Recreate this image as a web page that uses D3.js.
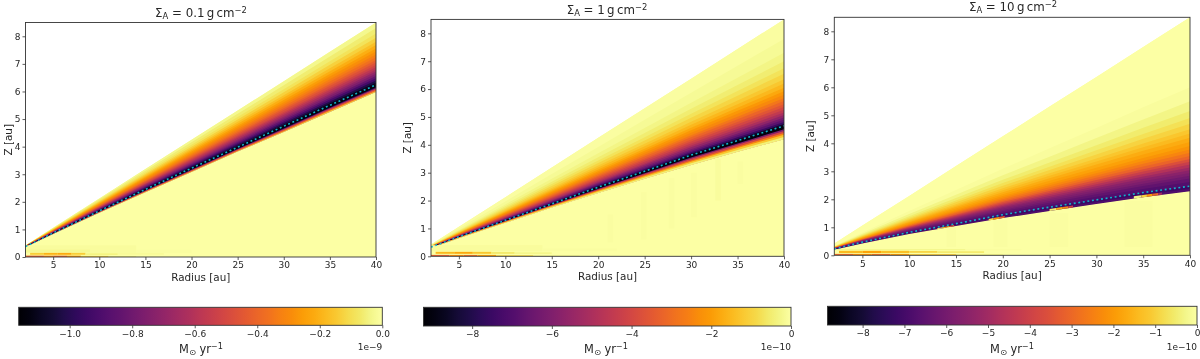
<!DOCTYPE html>
<html><head><meta charset="utf-8">
<script src="https://cdnjs.cloudflare.com/ajax/libs/d3/7.8.5/d3.min.js"></script>
<style>
html,body{margin:0;padding:0;background:#fff;overflow:hidden}
svg{display:block;filter:blur(0.4px)}
text{font-family:"DejaVu Sans",sans-serif;fill:#262626}
</style></head><body><svg id="c" width="1200" height="359"></svg>
<script>
// ---------- data ----------
const radii = [2,5,10,15,20,25,30,35,40];
const topZ  = [0.42,1.06,2.12,3.19,4.25,5.31,6.37,7.44,8.5];

const titles = ["0.1","1","10"];
const xTicks = [5,10,15,20,25,30,35,40];
const yTicks = [0,1,2,3,4,5,6,7,8];

// height of the dotted surface and of the lower edge of the active layer
const surface1 = [0.38,0.87,1.67,2.45,3.22,3.98,4.74,5.5,6.24];
const lower1   = [0.36,0.83,1.6,2.35,3.08,3.82,4.53,5.26,5.98];
const surface2 = [0.33,0.7,1.29,1.88,2.48,3.05,3.63,4.15,4.68];
const lower2   = [0.3,0.65,1.2,1.75,2.27,2.78,3.28,3.75,4.2];
const surface3 = [0.23,0.47,0.82,1.13,1.45,1.72,1.98,2.24,2.47];
const lower3   = [0.2,0.42,0.76,1.05,1.33,1.58,1.83,2.07,2.29];

// band edges (Z at R = 40) above the surface, and the band values
const edges1 = [8.5,8.3,8.1,7.95,7.8,7.68,7.56,7.45,7.34,7.24,7.14,7.05,6.96,6.88,6.8,6.72,6.64,6.56,6.48,6.4,6.32,6.24];
const values1= [-0.03,-0.06,-0.09,-0.13,-0.17,-0.21,-0.25,-0.29,-0.33,-0.37,-0.42,-0.47,-0.52,-0.58,-0.64,-0.7,-0.76,-0.84,-0.92,-1.02,-1.1];
const edges2 = [8.5,7.8,7.3,7,6.75,6.55,6.35,6.2,6.05,5.92,5.8,5.68,5.57,5.46,5.36,5.26,5.16,5.07,4.98,4.9,4.82,4.75,4.68];
const values2= [-0.05,-0.15,-0.3,-0.5,-0.7,-0.95,-1.2,-1.5,-1.8,-2.1,-2.4,-2.8,-3.2,-3.6,-4,-4.5,-5,-5.6,-6.2,-6.8,-7.6,-8.6];
const edges3 = [8.5,6,5.5,5.15,4.9,4.7,4.5,4.35,4.2,4.05,3.9,3.78,3.66,3.55,3.44,3.34,3.24,3.14,3.04,2.94,2.84,2.74,2.62,2.47];
const values3= [-0.02,-0.1,-0.3,-0.5,-0.7,-0.95,-1.2,-1.4,-1.65,-1.85,-2.1,-2.35,-2.7,-3.1,-3.6,-4.1,-4.6,-5.1,-5.5,-5.8,-6.1,-6.4,-6.7];

// band edges below the surface (Z at R = 40) and their values
const lowEdges1 = [6.24,6.15,6.12,6.07,6.02,5.98];
const lowValues1= [-1.14,-0.95,-0.6,-0.4,-0.15];
const lowEdges2 = [4.68,4.56,4.5,4.42,4.36,4.28,4.2];
const lowValues2= [-9,-6,-4,-2.5,-1.2,-0.4];
const lowEdges3 = [2.47,2.38,2.29];
const lowValues3= [-7.2,-6.8];

// colour scale limits and colour bar ticks
const vmin1=-1.163, vmin2=-9.22, vmin3=-8.84;
const cTicks1=[-1.0,-0.8,-0.6,-0.4,-0.2,0.0];
const cTicks2=[-8,-6,-4,-2,0];
const cTicks3=[-8,-7,-6,-5,-4,-3,-2,-1,0];
const offsets=["1e\u22129","1e\u221210","1e\u221210"];

// midplane streaks: R start, R end, Z start, Z end, value
const streaks1=[[2,14,0.14,0.42,-0.012],[14,20,0.15,0.26,-0.006],[2,9,0.17,0.27,-0.025],
 [2,4,0,0.05,-0.42],[4,5,0,0.05,-0.32],[5,6.5,0,0.05,-0.4],[6.5,8,0,0.05,-0.26],[8,11,0,0.04,-0.12],[11,14,0,0.03,-0.05],
 [2.5,4,0.08,0.15,-0.14],[4,5.5,0.08,0.15,-0.2],[5.5,7,0.08,0.15,-0.22],[7,8.5,0.08,0.15,-0.14],[8.5,12,0.08,0.13,-0.05],[12,17,0.09,0.13,-0.025]];
const streaks2=[[2,14,0.18,0.4,-0.1],[14,22,0.18,0.28,-0.05],
 [2,4,0,0.05,-3.4],[4,5.5,0,0.05,-2.4],[5.5,7,0,0.05,-3],[7,9,0,0.05,-2],[9,13,0,0.04,-0.9],[13,18,0,0.03,-0.3],
 [2.5,4.5,0.09,0.16,-1.5],[4.5,6.5,0.09,0.16,-1.8],[6.5,8.5,0.09,0.16,-1.2],[8.5,11,0.09,0.15,-0.6],[11,15,0.09,0.14,-0.3]];
const streaks3=[[2,16,0.18,0.22,-0.25],[16,22,0.18,0.21,-0.08],
 [2,4,0,0.05,-3],[4,6,0,0.05,-2.2],[6,8,0,0.05,-2.8],[8,10,0,0.05,-2],[10,15,0,0.04,-1.2],[15,20,0,0.03,-0.4],
 [2.5,5,0.08,0.16,-1.4],[5,7,0.08,0.16,-1.8],[7,10,0.08,0.16,-1.3],[10,13,0.09,0.15,-1],[13,18,0.09,0.14,-0.6]];
// faint ripples below the layer: R start, R end, Z start, Z end, value
const ripples2=[[21,21.6,0.5,1.5,-0.05],[24.6,25.2,0.6,2.3,-0.07],[27.6,28.2,1,2.8,-0.07],[30,30.6,1.4,3,-0.06],[32.6,33.2,2,3.5,-0.08],[35,35.6,2.6,3.4,-0.06]];
const ripples3=[[14,15,0.3,1,-0.05],[19,20.5,0.3,1.25,-0.06],[25,27,0.3,1.5,-0.05],[33,36,0.3,1.95,-0.05]];
// bright patches just under the surface of the third panel: R start, R end, value
const patches3=[[13,13.6,-0.6],[13.6,14.3,-1.6],[14.3,14.8,-3],[18.5,19,-0.8],[19,19.6,-2],[19.6,20.2,-3.2],[25,25.7,-0.5],[25.7,26.4,-1.6],[26.4,27,-2.4],[27,27.5,-4],[34,34.8,-0.3],[34.8,35.4,-1],[35.4,36,-2],[36,36.6,-3],[36.6,37,-5]];

// ---------- layout ----------
const panels=[
 {l:25.5,r:376,t:22.5,b:257,titleY:16.5,titleX:201,zX:11.5,rY:281,
  cl:18.7,cr:382.3,ct:307.3,cb:325.3,cLabelX:201,
  surf:surface1,low:lower1,edges:edges1,vals:values1,lowE:lowEdges1,lowV:lowValues1,vmin:vmin1,cTicks:cTicks1,fmt:d3.format(".1f"),streaks:streaks1,ripples:[],patches:[]},
 {l:431,r:784,t:19.4,b:256.3,titleY:14,titleX:607,zX:411,rY:280,
  cl:423.5,cr:791,ct:307.3,cb:326,cLabelX:606,
  surf:surface2,low:lower2,edges:edges2,vals:values2,lowE:lowEdges2,lowV:lowValues2,vmin:vmin2,cTicks:cTicks2,fmt:d3.format("d"),streaks:streaks2,ripples:ripples2,patches:[]},
 {l:834.3,r:1190,t:17.3,b:255.3,titleY:10.5,titleX:1013,zX:814,rY:279,
  cl:827.5,cr:1197,ct:306.3,cb:325,cLabelX:1012,
  surf:surface3,low:lower3,edges:edges3,vals:values3,lowE:lowEdges3,lowV:lowValues3,vmin:vmin3,cTicks:cTicks3,fmt:d3.format("d"),streaks:streaks3,ripples:ripples3,patches:patches3}
];
const svg=d3.select("#c");
const INK="#333";
const defs=svg.append("defs");

function styleAxis(g){
  g.selectAll("path").remove();
  g.selectAll("line").attr("stroke",INK).attr("stroke-width",0.8);
  g.selectAll("text").attr("font-size",9).attr("fill","#333");
}

panels.forEach((p,pi)=>{
  const x=d3.scaleLinear().domain([2,40]).range([p.l,p.r]);
  const y=d3.scaleLinear().domain([0,8.5]).range([p.b,p.t]);
  const colour=d3.scaleSequential(d3.interpolateInferno).domain([p.vmin,0]);
  const g=svg.append("g");
  const n=radii.length-1;
  const clipId="clip"+pi;
  defs.append("clipPath").attr("id",clipId).append("rect")
    .attr("x",p.l).attr("y",p.t).attr("width",p.r-p.l).attr("height",p.b-p.t);
  const field=g.append("g").attr("clip-path","url(#"+clipId+")");

  // whole wedge in the zero colour
  const area=d3.area().x((d,i)=>x(radii[i])).y0(d=>y(d[0])).y1(d=>y(d[1]));
  field.append("path").attr("d",area(topZ.map(v=>[0,v]))).attr("fill",colour(0));

  const above=z=>radii.map((r,i)=>p.surf[i]+(z-p.surf[n])/(topZ[n]-p.surf[n])*(topZ[i]-p.surf[i]));
  const below=z=>radii.map((r,i)=>p.surf[i]-(p.surf[n]-z)/(p.surf[n]-p.low[n])*(p.surf[i]-p.low[i]));
  // each band is painted from its upper edge down to a common floor, top band first, so no seam shows
  const draw=(upper,floor,v)=>field.append("path")
      .attr("d",area(upper.map((d,i)=>[floor[i],d]))).attr("fill",colour(v));
  const floor=below(p.lowE[p.lowE.length-1]);
  p.vals.forEach((v,i)=>draw(above(p.edges[i]),floor,v));
  p.lowV.forEach((v,i)=>draw(below(p.lowE[i]),floor,v));
  // repaint everything under the floor in the zero colour, covering the fringe of the bands
  field.append("path").attr("d",area(floor.map(v=>[0,v]))).attr("fill",colour(0));

  // ripples and streaks
  p.ripples.concat(p.streaks).forEach(s=>{
    field.append("rect").attr("x",x(s[0])).attr("width",x(s[1])-x(s[0]))
      .attr("y",y(s[3])).attr("height",y(s[2])-y(s[3])).attr("fill",colour(s[4]));
  });
  // patches resting on the lower edge
  const lowAt=d3.scaleLinear().domain(radii).range(p.low);
  const surfAt=d3.scaleLinear().domain(radii).range(p.surf);
  p.patches.forEach(s=>{
    const poly=[[s[0],lowAt(s[0])],[s[1],lowAt(s[1])],[s[1],(lowAt(s[1])+surfAt(s[1]))/2],[s[0],(lowAt(s[0])+surfAt(s[0]))/2]];
    field.append("path").attr("d",d3.line().x(d=>x(d[0])).y(d=>y(d[1]))(poly)+"Z").attr("fill",colour(s[2]));
  });

  // dotted surface line
  field.append("path").attr("fill","none").attr("stroke","#12b4ca").attr("stroke-width",1.6)
    .attr("stroke-dasharray","1.9 2.7")
    .attr("d",d3.line().x((d,i)=>x(radii[i])).y(d=>y(d))(p.surf));

  // frame + axes
  g.append("rect").attr("x",p.l).attr("y",p.t).attr("width",p.r-p.l).attr("height",p.b-p.t)
    .attr("fill","none").attr("stroke",INK).attr("stroke-width",0.9);
  g.append("g").attr("transform",`translate(0,${p.b})`)
    .call(d3.axisBottom(x).tickValues(xTicks).tickSize(3).tickPadding(2)).call(styleAxis);
  g.append("g").attr("transform",`translate(${p.l},0)`)
    .call(d3.axisLeft(y).tickValues(yTicks).tickSize(3).tickPadding(2)).call(styleAxis);

  g.append("text").attr("x",(p.l+p.r)/2).attr("y",p.rY).attr("text-anchor","middle").attr("font-size",10.4).text("Radius [au]");
  g.append("text").attr("transform",`translate(${p.zX},${(p.t+p.b)/2}) rotate(-90)`).attr("text-anchor","middle").attr("font-size",10.4).text("Z [au]");

  // title
  const t=g.append("text").attr("x",p.titleX).attr("y",p.titleY).attr("text-anchor","middle").attr("font-size",11.8);
  t.append("tspan").text("\u03A3");
  t.append("tspan").attr("dy",2.2).attr("font-size",8.4).text("A");
  t.append("tspan").attr("dy",-2.2).text(" = "+titles[pi]+"\u2009g\u2009cm");
  t.append("tspan").attr("dy",-4).attr("font-size",8.4).text("\u22122");

  // colour bar
  const cx=d3.scaleLinear().domain([p.vmin,0]).range([p.cl,p.cr]);
  const gid="grad"+pi;
  const lg=defs.append("linearGradient").attr("id",gid).attr("x1",0).attr("x2",1).attr("y1",0).attr("y2",0);
  d3.range(0,1.0001,1/32).forEach(f=>lg.append("stop").attr("offset",f).attr("stop-color",colour(p.vmin*(1-f))));
  g.append("rect").attr("x",p.cl).attr("y",p.ct).attr("width",p.cr-p.cl).attr("height",p.cb-p.ct)
    .attr("fill","url(#"+gid+")").attr("stroke",INK).attr("stroke-width",0.9);
  g.append("g").attr("transform",`translate(0,${p.cb})`)
    .call(d3.axisBottom(cx).tickValues(p.cTicks).tickFormat(p.fmt).tickSize(3).tickPadding(2)).call(styleAxis);
  g.append("text").attr("x",p.cr).attr("y",350).attr("text-anchor","end").attr("font-size",9).attr("fill","#333").text(offsets[pi]);
  const m=g.append("text").attr("x",p.cLabelX).attr("y",353).attr("text-anchor","middle").attr("font-size",11.4);
  m.append("tspan").text("M");
  m.append("tspan").attr("dy",2).attr("font-size",8.2).text("\u2299");
  m.append("tspan").attr("dy",-2).text(" yr");
  m.append("tspan").attr("dy",-4).attr("font-size",8.2).text("\u22121");
});
</script></body></html>
